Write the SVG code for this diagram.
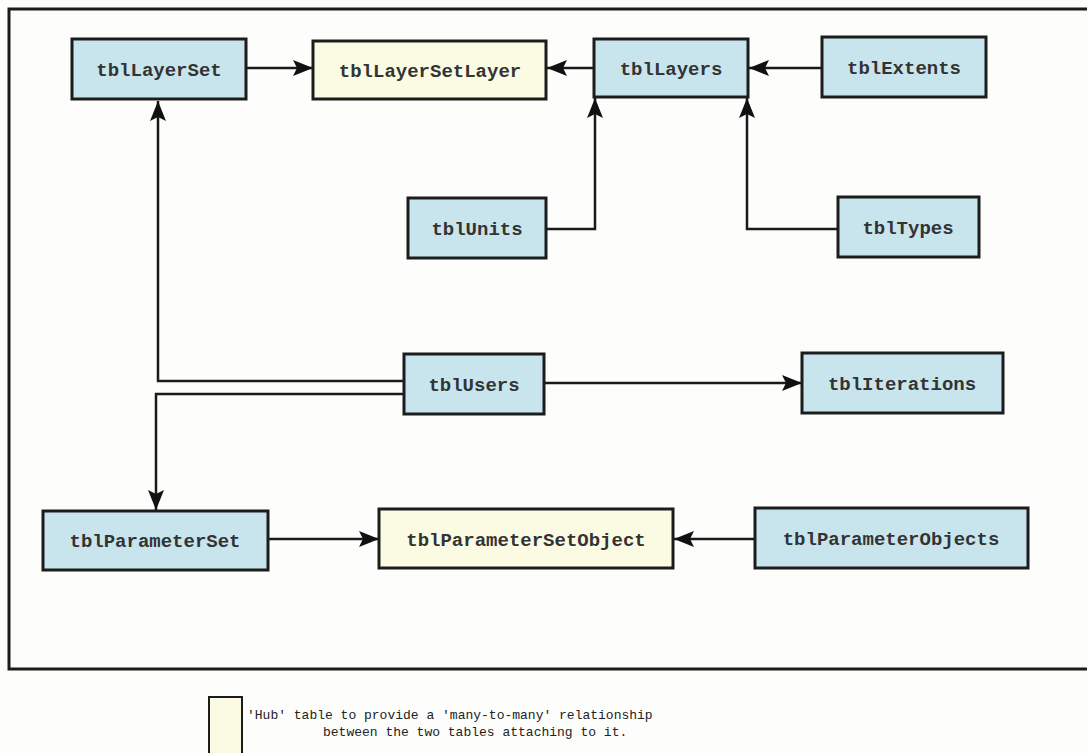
<svg xmlns="http://www.w3.org/2000/svg" width="1087" height="753" viewBox="0 0 1087 753">
  <style>
    .blue { fill: #c8e5ee; stroke: #1c1c1c; stroke-width: 3; }
    .yellow { fill: #fbfbe3; stroke: #1c1c1c; stroke-width: 3; }
    .lbl { font-family: "Liberation Mono", "DejaVu Sans Mono", monospace; font-size: 19px; font-weight: bold; fill: #333333; text-anchor: middle; }
    .conn { fill: none; stroke: #1a1a1a; stroke-width: 2.5; }
    .legend { font-family: "Liberation Mono", "DejaVu Sans Mono", monospace; font-size: 13px; fill: #222222; }
  </style>
  <defs>
    <marker id="arrow" markerUnits="userSpaceOnUse" markerWidth="22" markerHeight="18" refX="20" refY="8" orient="auto">
      <path d="M0,0 L20,8 L0,16 L4,8 z" fill="#111111"/>
    </marker>
  </defs>
  <rect x="0" y="0" width="1087" height="753" fill="#fdfdfb"/>
  <path d="M1087,9 H9 V669 H1087" fill="none" stroke="#1c1c1c" stroke-width="3"/>

  <g id="connectors">
    <path class="conn" d="M247,68 H313" marker-end="url(#arrow)"/>
    <path class="conn" d="M594,68 H547" marker-end="url(#arrow)"/>
    <path class="conn" d="M822,68 H749" marker-end="url(#arrow)"/>
    <path class="conn" d="M546,229 H595 V98" marker-end="url(#arrow)"/>
    <path class="conn" d="M838,229 H747 V98" marker-end="url(#arrow)"/>
    <path class="conn" d="M404,381 H158 V101" marker-end="url(#arrow)"/>
    <path class="conn" d="M404,394 H156 V510" marker-end="url(#arrow)"/>
    <path class="conn" d="M544,383 H802" marker-end="url(#arrow)"/>
    <path class="conn" d="M268,539 H379" marker-end="url(#arrow)"/>
    <path class="conn" d="M755,539 H674" marker-end="url(#arrow)"/>
  </g>

  <g id="tblLayerSet"><rect class="blue" x="72" y="39" width="174" height="60"/><text class="lbl" x="159" y="76">tblLayerSet</text></g>
  <g id="tblLayerSetLayer"><rect class="yellow" x="313" y="41" width="233" height="58"/><text class="lbl" x="430" y="77">tblLayerSetLayer</text></g>
  <g id="tblLayers"><rect class="blue" x="594" y="39" width="154" height="58"/><text class="lbl" x="671" y="75">tblLayers</text></g>
  <g id="tblExtents"><rect class="blue" x="822" y="37" width="164" height="60"/><text class="lbl" x="904" y="74">tblExtents</text></g>
  <g id="tblUnits"><rect class="blue" x="408" y="198" width="138" height="60"/><text class="lbl" x="477" y="235">tblUnits</text></g>
  <g id="tblTypes"><rect class="blue" x="838" y="197" width="141" height="60"/><text class="lbl" x="908" y="234">tblTypes</text></g>
  <g id="tblUsers"><rect class="blue" x="404" y="354" width="140" height="60"/><text class="lbl" x="474" y="391">tblUsers</text></g>
  <g id="tblIterations"><rect class="blue" x="802" y="353" width="201" height="60"/><text class="lbl" x="902" y="390">tblIterations</text></g>
  <g id="tblParameterSet"><rect class="blue" x="43" y="511" width="225" height="59"/><text class="lbl" x="155" y="547">tblParameterSet</text></g>
  <g id="tblParameterSetObject"><rect class="yellow" x="379" y="509" width="294" height="59"/><text class="lbl" x="526" y="546">tblParameterSetObject</text></g>
  <g id="tblParameterObjects"><rect class="blue" x="755" y="508" width="273" height="60"/><text class="lbl" x="891" y="545">tblParameterObjects</text></g>

  <g id="legend">
    <rect x="209" y="697" width="33" height="60" fill="#fbfbe3" stroke="#1c1c1c" stroke-width="2"/>
    <text class="legend" x="247" y="719">'Hub' table to provide a 'many-to-many' relationship</text>
    <text class="legend" x="323" y="736">between the two tables attaching to it.</text>
  </g>
</svg>
